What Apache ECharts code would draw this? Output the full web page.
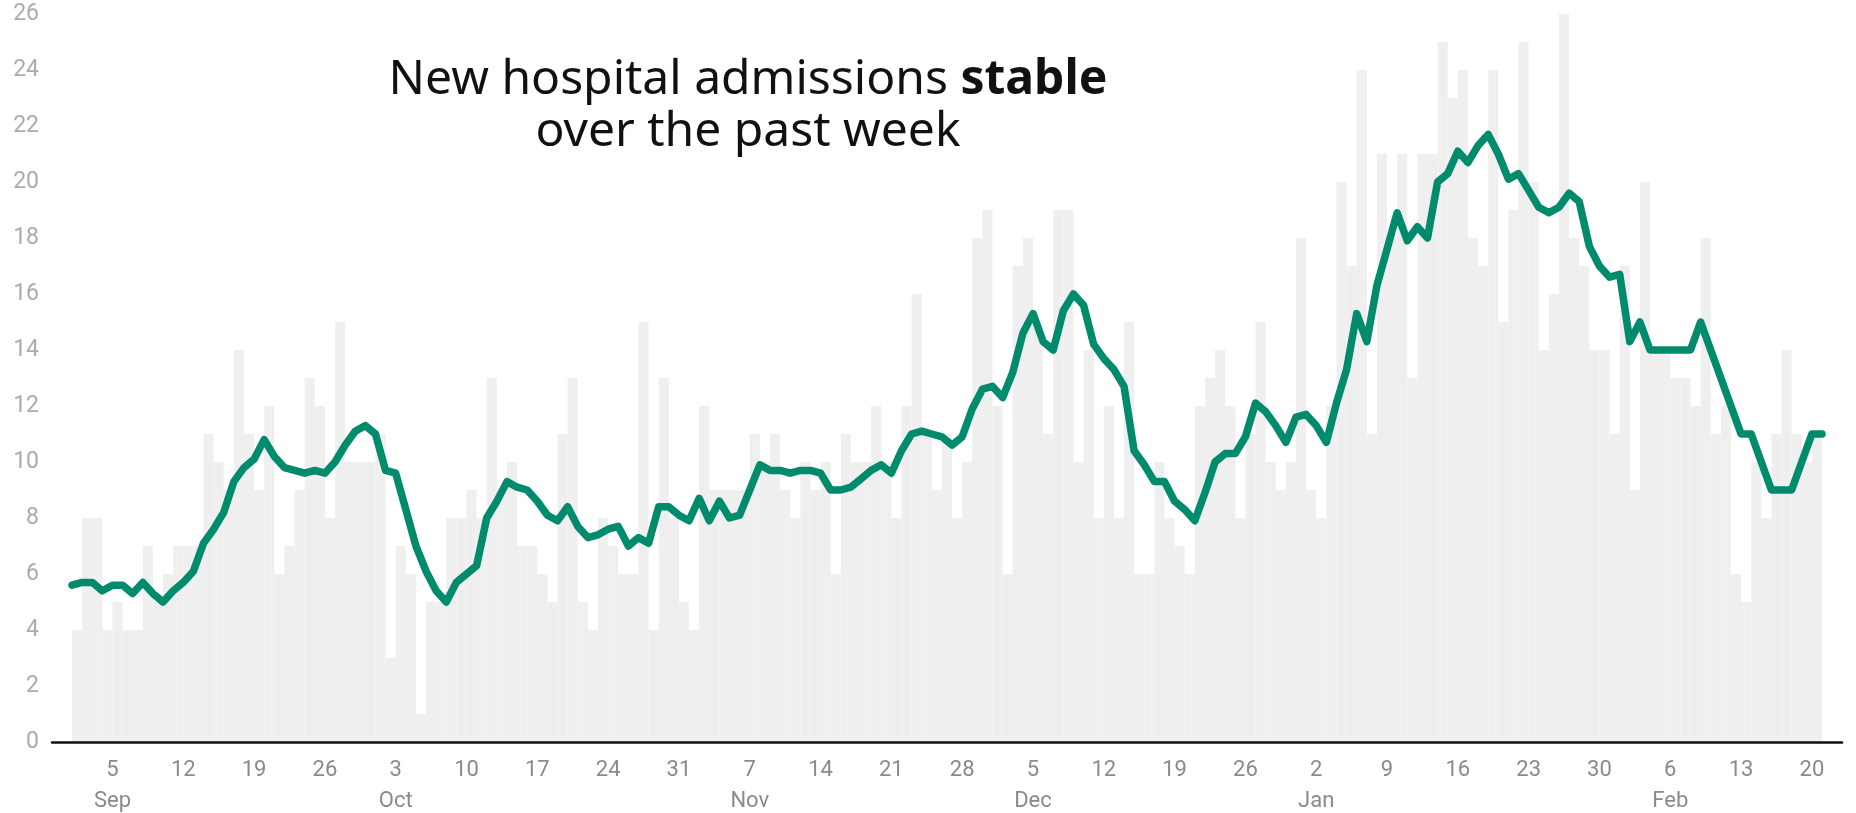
<!DOCTYPE html>
<html lang="en">
<head>
  <meta charset="UTF-8">
  <title>New hospital admissions</title>
  <script src="https://cdn.jsdelivr.net/npm/echarts@6.0.0/dist/echarts.min.js"></script>
  <style>
    html, body { margin: 0; padding: 0; background: #fff; }
    #main { width: 1856px; height: 813px; }
  </style>
</head>
<body>
<div id="main"></div>
<script type="text/javascript">
  // daily new admissions, 1 Sep 2020 -> 20 Feb 2021
  const admissions = [
    4, 8, 8, 4, 5, 4, 4, 7, 5, 6, 7, 7, 7, 11, 10, 9, 14, 11, 9, 12, 6, 7, 9, 13, 12, 8, 15, 10, 10, 10,
    11, 3, 7, 6, 1, 5, 5, 8, 8, 9, 8, 13, 9, 10, 7, 7, 6, 5, 11, 13, 5, 4, 8, 7, 6, 6, 15, 4, 13, 8, 5,
    4, 12, 9, 9, 9, 9, 11, 10, 11, 9, 8, 10, 9, 10, 6, 11, 10, 10, 12, 10, 8, 12, 16, 11, 9, 11, 8, 10, 18, 19,
    12, 6, 17, 18, 15, 11, 19, 19, 10, 14, 8, 12, 8, 15, 6, 6, 10, 8, 7, 6, 12, 13, 14, 12, 8, 11, 15, 10, 9, 10, 18,
    9, 8, 12, 20, 17, 24, 11, 21, 18, 21, 13, 21, 21, 25, 23, 24, 18, 17, 24, 15, 19, 25, 20, 14, 16, 26, 18, 17, 14, 14, 11,
    17, 9, 20, 14, 14, 13, 13, 12, 18, 11, 12, 6, 5, 10, 8, 11, 14, 11, 10, 11
  ];

  // 7-day average (last value repeated so the line reaches the end of the last day)
  const weekAvg = [
    5.6, 5.7, 5.7, 5.4, 5.6, 5.6, 5.3, 5.7, 5.3, 5.0, 5.4, 5.7, 6.1, 7.1, 7.6, 8.2, 9.3, 9.8, 10.1, 10.8, 10.2, 9.8, 9.7, 9.6, 9.7, 9.6, 10.0, 10.6, 11.1, 11.3,
    11.0, 9.7, 9.6, 8.3, 7.0, 6.1, 5.4, 5.0, 5.7, 6.0, 6.3, 8.0, 8.6, 9.3, 9.1, 9.0, 8.6, 8.1, 7.9, 8.4, 7.7, 7.3, 7.4, 7.6, 7.7, 7.0, 7.3, 7.1, 8.4, 8.4, 8.1,
    7.9, 8.7, 7.9, 8.6, 8.0, 8.1, 9.0, 9.9, 9.7, 9.7, 9.6, 9.7, 9.7, 9.6, 9.0, 9.0, 9.1, 9.4, 9.7, 9.9, 9.6, 10.4, 11.0, 11.1, 11.0, 10.9, 10.6, 10.9, 11.9, 12.6,
    12.7, 12.3, 13.2, 14.6, 15.3, 14.3, 14.0, 15.4, 16.0, 15.6, 14.2, 13.7, 13.3, 12.7, 10.4, 9.9, 9.3, 9.3, 8.6, 8.3, 7.9, 8.9, 10.0, 10.3, 10.3, 10.9, 12.1, 11.8, 11.3, 10.7, 11.6,
    11.7, 11.3, 10.7, 12.1, 13.3, 15.3, 14.3, 16.3, 17.6, 18.9, 17.9, 18.4, 18.0, 20.0, 20.3, 21.1, 20.7, 21.3, 21.7, 21.0, 20.1, 20.3, 19.7, 19.1, 18.9, 19.1, 19.6, 19.3, 17.7, 17.0, 16.6,
    16.7, 14.3, 15.0, 14.0, 14.0, 14.0, 14.0, 14.0, 15.0, 14.0, 13.0, 12.0, 11.0, 11.0, 10.0, 9.0, 9.0, 9.0, 10.0, 11.0, 11.0
  ];

  const tickDates = [
    '2020-09-05', '2020-09-12', '2020-09-19', '2020-09-26', '2020-10-03', '2020-10-10', '2020-10-17',
    '2020-10-24', '2020-10-31', '2020-11-07', '2020-11-14', '2020-11-21', '2020-11-28', '2020-12-05',
    '2020-12-12', '2020-12-19', '2020-12-26', '2021-01-02', '2021-01-09', '2021-01-16', '2021-01-23',
    '2021-01-30', '2021-02-06', '2021-02-13', '2021-02-20'
  ];
  const tickLabels = [
    '5\nSep', '12', '19', '26', '3\nOct', '10', '17', '24', '31', '7\nNov', '14', '21', '28', '5\nDec',
    '12', '19', '26', '2\nJan', '9', '16', '23', '30', '6\nFeb', '13', '20'
  ];

  // one category per day, plus the day after the last one for the line's end point
  const start = Date.UTC(2020, 8, 1);
  const days = [];
  for (let i = 0; i <= admissions.length; i++) {
    days.push(new Date(start + i * 864e5).toISOString().slice(0, 10));
  }
  const barDays = days.slice(0, admissions.length);

  const myChart = echarts.init(document.getElementById('main'));

  myChart.setOption({
    backgroundColor: '#fff',
    animation: false,
    title: {
      text: 'New hospital admissions {b|stable}\nover the past week',
      left: 743,
      top: 49,
      textAlign: 'center',
      textStyle: {
        fontFamily: 'Noto Sans',
        fontWeight: 'normal',
        fontSize: 48,
        lineHeight: 52,
        color: '#111',
        rich: {
          b: { fontFamily: 'Noto Sans', fontWeight: 'bold', fontSize: 48, lineHeight: 52, color: '#111' }
        }
      }
    },
    grid: [
      { left: 72, right: 34, top: 14, bottom: 71, outerBoundsMode: 'none' },
      // wider grid only for the baseline
      { left: 52, right: 14, top: 14, bottom: 71, outerBoundsMode: 'none' }
    ],
    xAxis: [
      {
        gridIndex: 0,
        type: 'category',
        data: barDays,
        boundaryGap: true,
        show: false
      },
      {
        gridIndex: 0,
        type: 'category',
        position: 'bottom',
        data: days,
        boundaryGap: false,
        axisLine: { show: false, onZero: false },
        axisTick: { show: false },
        axisLabel: {
          interval: function (idx, value) { return tickDates.indexOf(value) >= 0; },
          formatter: function (value) { return tickLabels[tickDates.indexOf(value)]; },
          fontFamily: 'Roboto',
          fontSize: 22,
          lineHeight: 31,
          color: '#8a8a8a',
          margin: 13
        }
      },
      {
        gridIndex: 1,
        type: 'value',
        min: 0,
        max: 1,
        z: 5,
        axisLine: { show: true, lineStyle: { color: '#111', width: 2.5 } },
        axisTick: { show: false },
        axisLabel: { show: false },
        splitLine: { show: false }
      }
    ],
    yAxis: [
      {
        gridIndex: 0,
        type: 'value',
        min: 0,
        max: 26,
        interval: 2,
        axisLine: { show: false },
        axisTick: { show: false },
        splitLine: { show: false },
        axisLabel: {
          fontFamily: 'Roboto',
          fontSize: 23,
          color: '#ababab',
          margin: 33
        }
      },
      {
        gridIndex: 1,
        type: 'value',
        min: 0,
        max: 1,
        show: false
      }
    ],
    series: [
      {
        name: 'Admissions',
        type: 'bar',
        xAxisIndex: 0,
        yAxisIndex: 0,
        data: admissions,
        barCategoryGap: '0%',
        itemStyle: { color: '#efefef' },
        silent: true
      },
      {
        name: '7-day average',
        type: 'line',
        xAxisIndex: 1,
        yAxisIndex: 0,
        data: weekAvg,
        showSymbol: false,
        symbol: 'none',
        lineStyle: { color: '#008b6c', width: 7.5, cap: 'round', join: 'round' },
        z: 3
      }
    ]
  });
</script>
</body>
</html>
